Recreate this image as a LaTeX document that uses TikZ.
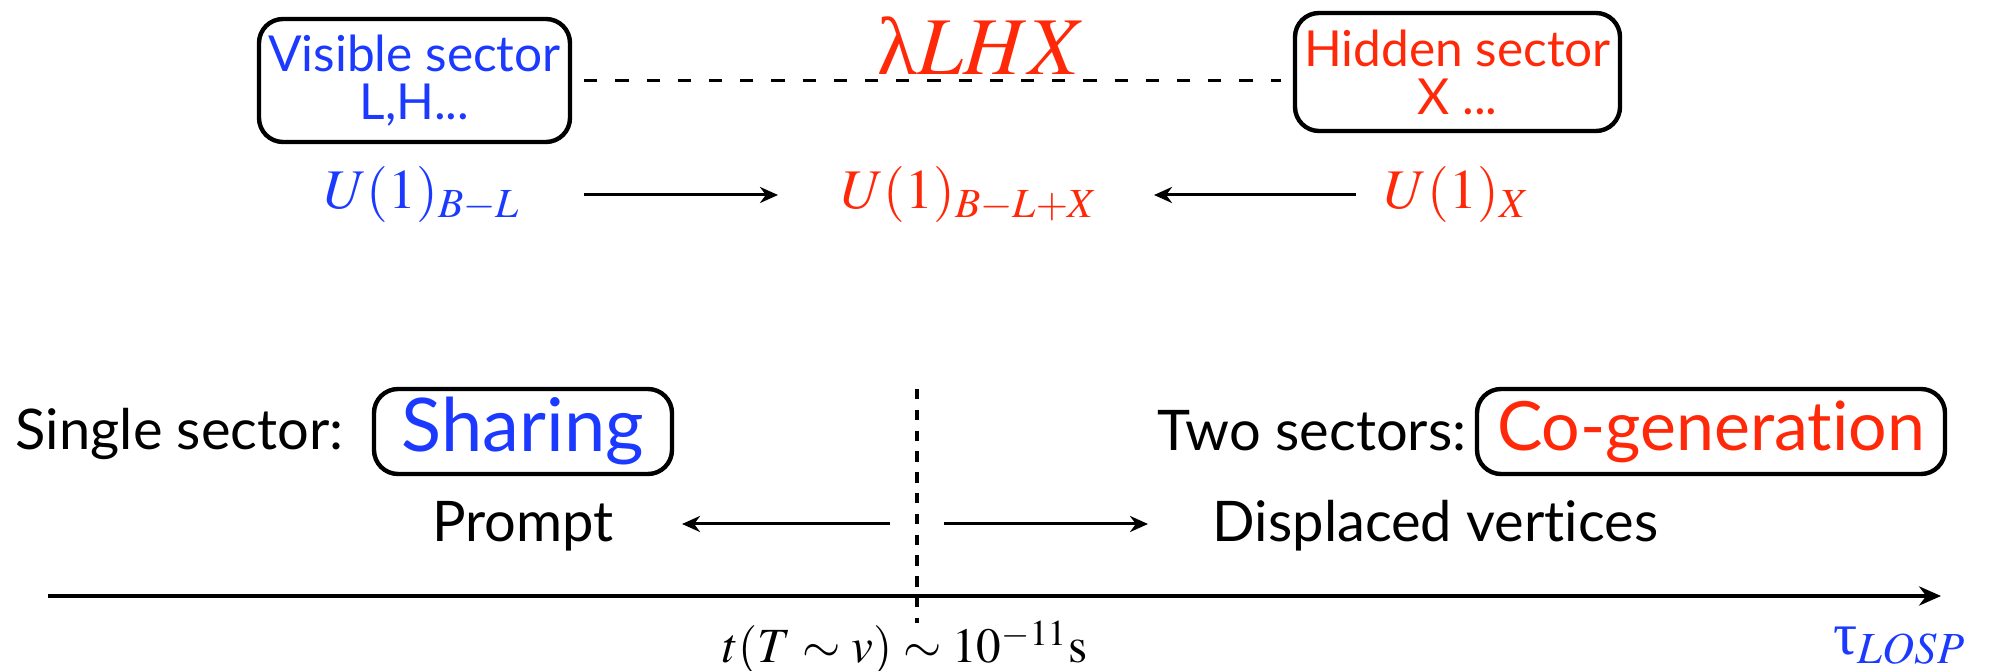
\documentclass[tikz,border=0pt]{standalone}
\usepackage{mathptmx}
\usepackage[no-math]{fontspec}
\setmainfont[Ligatures={NoCommon}]{Lato}
\newfontfamily\grk{Liberation Serif}
\usetikzlibrary{arrows.meta}
\definecolor{vblue}{RGB}{28,58,255}
\definecolor{hred}{RGB}{255,40,8}
\begin{document}
\begin{tikzpicture}[x=0.25pt,y=-0.25pt,
  box/.style={draw, line width=1.1pt, rounded corners=6pt, align=center, inner sep=0pt},
  boxtxt/.style={font=\fontsize{12.4}{12}\selectfont},
  bigtxt/.style={font=\fontsize{18.5}{20}\selectfont},
  lbl/.style={font=\fontsize{14}{16}\selectfont, inner sep=0pt},
  mth/.style={font=\fontsize{14}{16}\selectfont, inner sep=0pt},
  arr/.style={-{Stealth[length=4.5pt,width=4pt]}, line width=0.75pt},
  axisarr/.style={-{Stealth[length=5.5pt,width=4.8pt]}, line width=1pt},
  dash1/.style={line width=0.75pt, dash pattern=on 3.3pt off 4.5pt},
  dash2/.style={line width=1pt, dash pattern=on 2.6pt off 2.6pt}]
\useasboundingbox (0,0) rectangle (2000,671);

% top boxes
\node[box, boxtxt, text=vblue, minimum width=77.75pt, minimum height=30.75pt] (vis) at (414.5,80.5) {Visible sector\\L,H...};
\node[box, boxtxt, text=hred, minimum width=81.25pt, minimum height=29.5pt] (hid) at (1457.5,72) {Hidden sector\\X ...};
\draw[dash1, shorten <=3pt, shorten >=3pt] (vis.east) -- (vis.east -| hid.west);
\node[font=\fontsize{20.5}{22}\selectfont, text=hred, inner sep=0pt] (lam) at (982,46) {{\grk λ}$LHX$};

% U(1) row
\node[mth, text=vblue, anchor=west] (ub) at (323,195) {$U(1)_{B-L}$};
\node[mth, text=hred] (ubx) at (970,195) {$U(1)_{B-L+X}$};
\node[mth, text=hred, anchor=east] (ux) at (1531,195) {$U(1)_{X}$};
\coordinate (a1s) at (584,195);
\coordinate (a2s) at (1356,195);
\draw[arr] (a1s) -- (778,195);
\draw[arr] (a2s) -- (1154,195);

% bottom row
\node[lbl, anchor=west] (single) at (15,434) {Single sector:};
\node[box, bigtxt, text=vblue, minimum width=74.5pt, minimum height=21.25pt] (share) at (523,431.5) {Sharing};
\node[lbl, anchor=east] (two) at (1467,431) {Two sectors:};
\node[box, font=\fontsize{17}{20}\selectfont, text=hred, minimum width=117pt, minimum height=21.25pt] (cogen) at (1711,431.5) {Co-generation};

\coordinate (vtop) at (917,389);
\coordinate (vbot) at (917,623);
\draw[dash2] (vtop) -- (vbot);

\node[lbl] (prompt) at (523,526) {Prompt};
\node[lbl, anchor=west] (disp) at (1212,526) {Displaced vertices};
\coordinate (pl) at (890,524);
\coordinate (pr) at (944,524);
\draw[arr] (pl) -- (682,524);
\draw[arr] (pr) -- (1148,524);

\coordinate (ax0) at (48,596);
\coordinate (ax1) at (1941,596);
\draw[axisarr] (ax0) -- (ax1);

\node[font=\fontsize{12.3}{14}\selectfont, inner sep=0pt] (tl) at (905,648) {$t(T\sim v)\sim 10^{-11}\mathrm{s}$};
\node[font=\fontsize{15}{17}\selectfont, text=vblue, inner sep=0pt] (tau) at (1900,646) {{\grk τ}$_{LOSP}$};
\end{tikzpicture}
\end{document}
